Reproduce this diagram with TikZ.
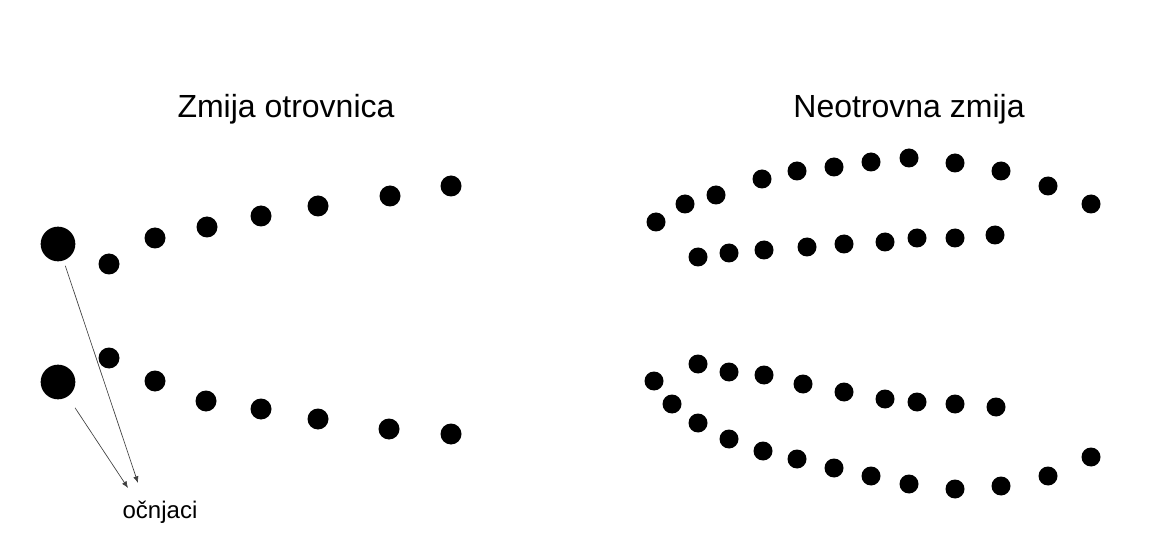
\documentclass[tikz,border=0pt]{standalone}
\usepackage{fontspec}
\setmainfont{Liberation Sans}
\usetikzlibrary{arrows.meta}
\tikzset{dot/.style={circle,fill=black,inner sep=0pt,minimum size=15.75pt},
  sdot/.style={circle,fill=black,inner sep=0pt,minimum size=14.25pt},
  fang/.style={circle,fill=black,inner sep=0pt,minimum size=26pt},
  zubarrow/.style={-{Latex[length=5pt,width=4pt]},black!75,line width=.5pt}}
\newcommand{\tocka}[4][dot]{\node[#1] (#2) at (#3,#4){};}

\begin{document}
\begin{tikzpicture}[x=.75pt,y=-.75pt]
\useasboundingbox (0,0) rectangle (1171,538);
% otrovnica
\node[font=\fontsize{24}{28}\selectfont,anchor=base] (naslovL) at (286,118){Zmija otrovnica};
\node[fang] (fangtop) at (58,244){};\node[fang] (fangbot) at (58,382){};
\tocka{v1}{109}{264}\tocka{v2}{155}{238}\tocka{v3}{207}{227}\tocka{v4}{261}{216}
\tocka{v5}{318}{206}\tocka{v6}{390}{196}\tocka{v7}{451}{186}
\tocka{w1}{109}{358}\tocka{w2}{155}{381}\tocka{w3}{206}{401}\tocka{w4}{261}{409}
\tocka{w5}{318}{419}\tocka{w6}{389}{429}\tocka{w7}{451}{434}
\node[font=\fontsize{18}{21}\selectfont,anchor=base] (ocnjaci) at (160,518){očnjaci};
\coordinate (tipA) at (138,483);\coordinate (tipB) at (128,488);
\draw[zubarrow,shorten <=4pt] (fangtop)--(tipA);
\draw[zubarrow,shorten <=10pt] (fangbot)--(tipB);
% neotrovna
\node[font=\fontsize{24}{28}\selectfont,anchor=base] (naslovR) at (909,118){Neotrovna zmija};
\tocka[sdot]{a1}{656}{222}\tocka[sdot]{a2}{685}{204}\tocka[sdot]{a3}{716}{195}\tocka[sdot]{a4}{762}{179}
\tocka[sdot]{a5}{797}{171}\tocka[sdot]{a6}{834}{167}\tocka[sdot]{a7}{871}{162}\tocka[sdot]{a8}{909}{158}
\tocka[sdot]{a9}{955}{163}\tocka[sdot]{a10}{1001}{171}\tocka[sdot]{a11}{1048}{186}\tocka[sdot]{a12}{1091}{204}
\tocka[sdot]{b1}{698}{257}\tocka[sdot]{b2}{729}{253}\tocka[sdot]{b3}{764}{250}\tocka[sdot]{b4}{807}{247}
\tocka[sdot]{b5}{844}{244}\tocka[sdot]{b6}{885}{242}\tocka[sdot]{b7}{917}{238}\tocka[sdot]{b8}{955}{238}
\tocka[sdot]{b9}{995}{235}
\tocka[sdot]{c1}{654}{381}\tocka[sdot]{c2}{698}{364}\tocka[sdot]{c3}{729}{372}\tocka[sdot]{c4}{764}{375}
\tocka[sdot]{c5}{803}{384}\tocka[sdot]{c6}{844}{392}\tocka[sdot]{c7}{885}{399}\tocka[sdot]{c8}{917}{402}
\tocka[sdot]{c9}{955}{404}\tocka[sdot]{c10}{996}{407}
\tocka[sdot]{d1}{672}{404}\tocka[sdot]{d2}{698}{423}\tocka[sdot]{d3}{729}{439}\tocka[sdot]{d4}{763}{451}
\tocka[sdot]{d5}{797}{459}\tocka[sdot]{d6}{834}{468}\tocka[sdot]{d7}{871}{476}\tocka[sdot]{d8}{909}{484}
\tocka[sdot]{d9}{955}{489}\tocka[sdot]{d10}{1001}{486}\tocka[sdot]{d11}{1048}{476}\tocka[sdot]{d12}{1091}{457}
\end{tikzpicture}
\end{document}
